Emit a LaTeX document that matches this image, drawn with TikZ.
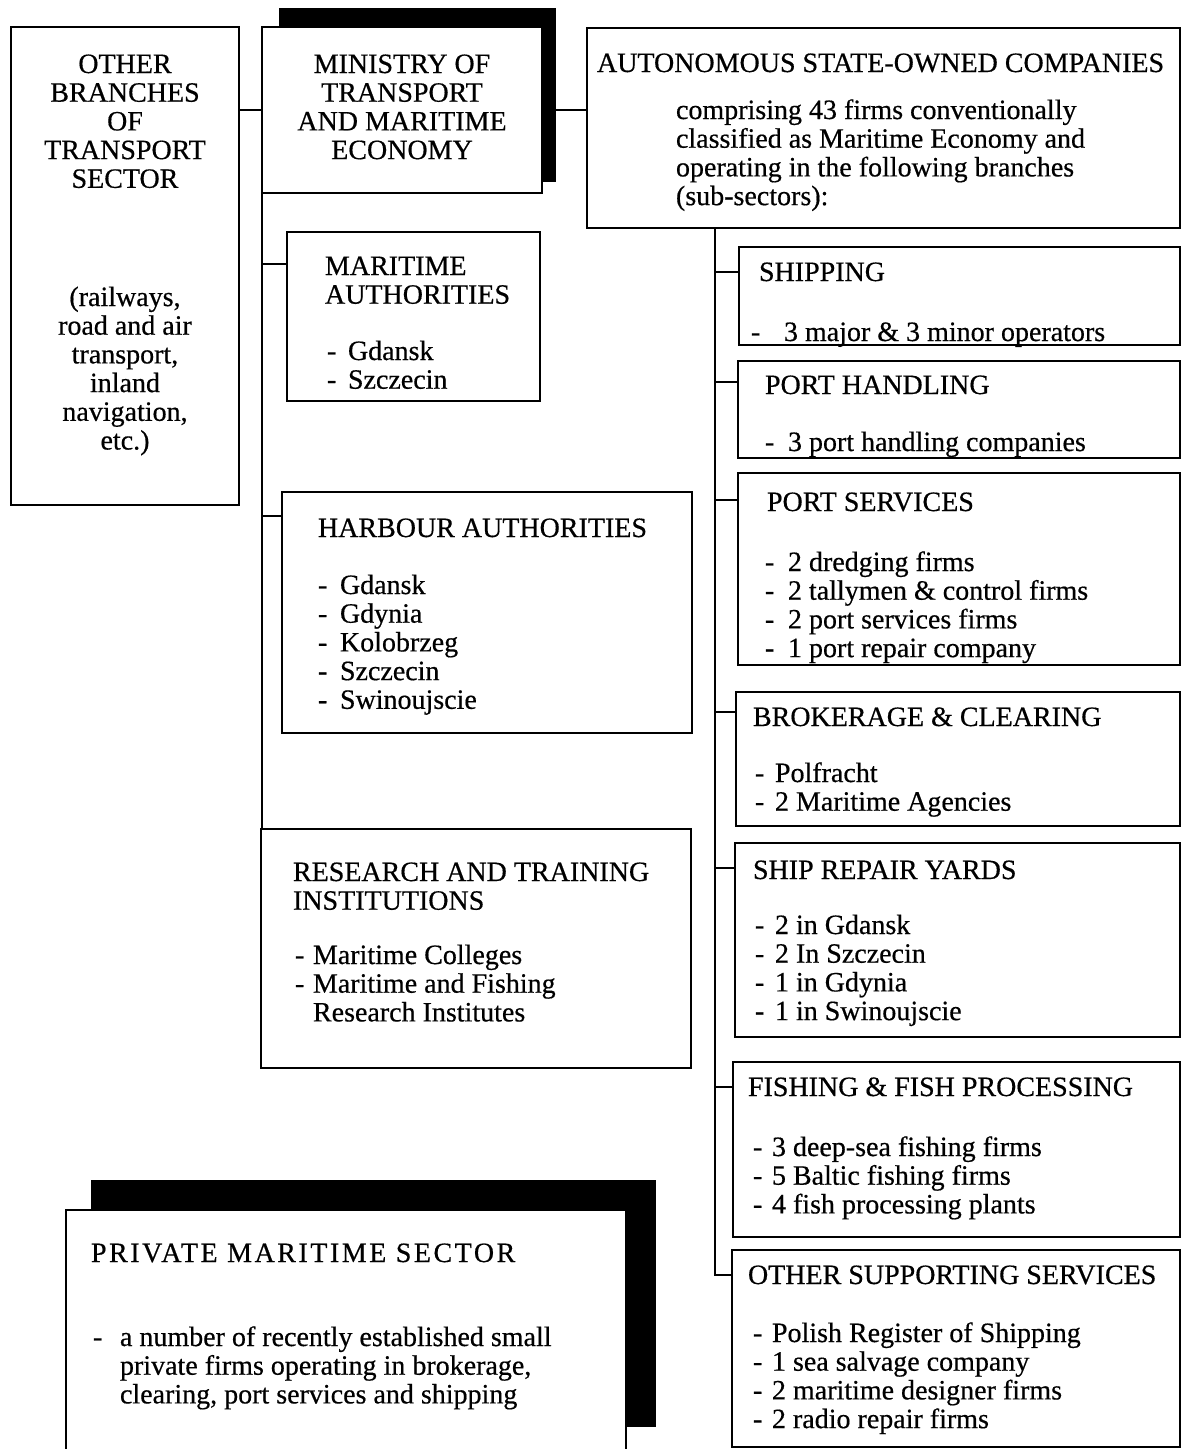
\documentclass[tikz,border=0pt]{standalone}
\usepackage{fontspec}
\setmainfont{Liberation Serif}[FakeBold=0.5]

% a framed box given by its corners (pixel-style coordinates, y downwards)
\newcommand\boxat[6][box]{\node[#1, minimum width={#5-#3}, minimum height={#6-#4}] (#2) at (#3,#4) {};}
% a text block whose first line is centred at the given height
\newcommand\txtat[5][txt]{\node[#1] (#2) at (#3,{#4-11}) {\rule{0pt}{20pt}#5};}
% a dashed list entry
\newcommand\itm[2][21]{\makebox[#1pt][l]{-}#2}

\tikzset{
  box/.style={draw, line width=2.8pt, fill=white, anchor=north west,
              inner sep=0pt, outer sep=0pt},
  shade/.style={fill=black, anchor=north west, inner sep=0pt, outer sep=0pt},
  txt/.style={inner sep=0pt, outer sep=0pt, align=left, anchor=north west,
              font=\fontsize{28}{28.7}\selectfont},
  ctxt/.style={txt, align=center, anchor=north},
  link/.style={line width=2.8pt}
}

\begin{document}
\begin{tikzpicture}[x=1pt,y=-1pt]
\useasboundingbox (0,0) rectangle (1182,1449);
\clip (0,0) rectangle (1182,1449);

% ---- top row ----
\boxat{other}{11}{27}{239}{505}
\boxat[shade]{mshade}{279}{8}{556}{182}
\boxat{ministry}{262}{27}{542}{193}
\boxat{auton}{587}{28}{1180}{228}

\txtat[ctxt]{otherT}{125}{64}{OTHER\\BRANCHES\\OF\\TRANSPORT\\SECTOR}
\txtat[ctxt]{otherB}{125}{297}{(railways,\\road and air\\transport,\\inland\\navigation,\\etc.)}
\txtat[ctxt]{minT}{402}{64}{MINISTRY OF\\TRANSPORT\\AND MARITIME\\ECONOMY}
\txtat{autT}{597}{63}{AUTONOMOUS STATE-OWNED COMPANIES}
\txtat{autB}{676}{110}{comprising 43 firms conventionally\\classified as Maritime Economy and\\operating in the following branches\\(sub-sectors):}

% ---- ministry departments ----
\boxat{maritime}{287}{232}{540}{401}
\txtat{marT}{325}{266}{MARITIME\\AUTHORITIES}
\txtat{marB}{327}{351}{\itm{Gdansk}\\\itm{Szczecin}}

\boxat{harbour}{282}{492}{692}{733}
\txtat{harT}{318}{528}{HARBOUR AUTHORITIES}
\txtat{harB}{318}{585}{\itm[22]{Gdansk}\\\itm[22]{Gdynia}\\\itm[22]{Kolobrzeg}\\\itm[22]{Szczecin}\\\itm[22]{Swinoujscie}}

\boxat{research}{261}{829}{691}{1068}
\txtat{resT}{293}{872}{RESEARCH AND TRAINING\\INSTITUTIONS}
\txtat{resB}{295}{955}{\itm[18]{Maritime Colleges}\\\itm[18]{Maritime and Fishing}\\\hspace*{18pt}Research Institutes}

% ---- sub-sectors ----
\boxat{shipping}{739}{247}{1180}{345}
\txtat{shpT}{759}{272}{SHIPPING}
\txtat{shpB}{751}{332}{\itm[33]{3 major \& 3 minor operators}}

\boxat{porthand}{738}{361}{1180}{458}
\txtat{phT}{765}{385}{PORT HANDLING}
\txtat{phB}{765}{442}{\itm[23]{3 port handling companies}}

\boxat{portserv}{738}{473}{1180}{665}
\txtat{psT}{767}{502}{PORT SERVICES}
\txtat{psB}{765}{562}{\itm[23]{2 dredging firms}\\\itm[23]{2 tallymen \& control firms}\\\itm[23]{2 port services firms}\\\itm[23]{1 port repair company}}

\boxat{broker}{736}{692}{1180}{826}
\txtat{brT}{753}{717}{BROKERAGE \& CLEARING}
\txtat{brB}{755}{773}{\itm[20]{Polfracht}\\\itm[20]{2 Maritime Agencies}}

\boxat{shiprep}{735}{843}{1180}{1037}
\txtat{srT}{753}{870}{SHIP REPAIR YARDS}
\txtat{srB}{755}{925}{\itm[20]{2 in Gdansk}\\\itm[20]{2 In Szczecin}\\\itm[20]{1 in Gdynia}\\\itm[20]{1 in Swinoujscie}}

\boxat{fishing}{733}{1062}{1180}{1237}
\txtat{fiT}{748}{1087}{FISHING \& FISH PROCESSING}
\txtat{fiB}{753}{1147}{\itm[19]{3 deep-sea fishing firms}\\\itm[19]{5 Baltic fishing firms}\\\itm[19]{4 fish processing plants}}

\boxat{othersup}{732}{1250}{1180}{1447}
\txtat{osT}{748}{1275}{OTHER SUPPORTING SERVICES}
\txtat{osB}{753}{1333}{\itm[19]{Polish Register of Shipping}\\\itm[19]{1 sea salvage company}\\\itm[19]{2 maritime designer firms}\\\itm[19]{2 radio repair firms}}

% ---- private sector ----
\boxat[shade]{pshade}{91}{1180}{656}{1427}
\boxat{private}{66}{1210}{626}{1470}
\txtat{prT}{91}{1253}{\addfontfeature{LetterSpace=9}PRIVATE MARITIME SECTOR}
\txtat{prB}{93}{1337}{\itm[27]{a number of recently established small}\\\hspace*{27pt}private firms operating in brokerage,\\\hspace*{27pt}clearing, port services and shipping}

% ---- connectors ----
\draw[link] (ministry.west) -- (ministry.west -| other.east);
\draw[link] (mshade.east |- ministry.west) -- (auton.west |- ministry.west);

\draw[link] (ministry.south west) -- (ministry.south west |- research.north);
\coordinate (marIn) at ([yshift=-32pt]maritime.north west);
\coordinate (harIn) at ([yshift=-24pt]harbour.north west);
\draw[link] (marIn) -- (marIn -| ministry.south west);
\draw[link] (harIn) -- (harIn -| ministry.south west);

\coordinate (rs) at (715,0);
\coordinate (shpIn) at ([yshift=-25pt]shipping.north west);
\coordinate (phIn) at ([yshift=-21pt]porthand.north west);
\coordinate (psIn) at ([yshift=-27pt]portserv.north west);
\coordinate (brIn) at ([yshift=-20pt]broker.north west);
\coordinate (srIn) at ([yshift=-25pt]shiprep.north west);
\coordinate (fiIn) at ([yshift=-25pt]fishing.north west);
\coordinate (osIn) at ([yshift=-25pt]othersup.north west);
\draw[link] (auton.south -| rs) -- (osIn -| rs) -- (osIn);
\foreach \c in {shpIn,phIn,psIn,brIn,srIn,fiIn}
  \draw[link] (\c -| rs) -- (\c);
\end{tikzpicture}
\end{document}
